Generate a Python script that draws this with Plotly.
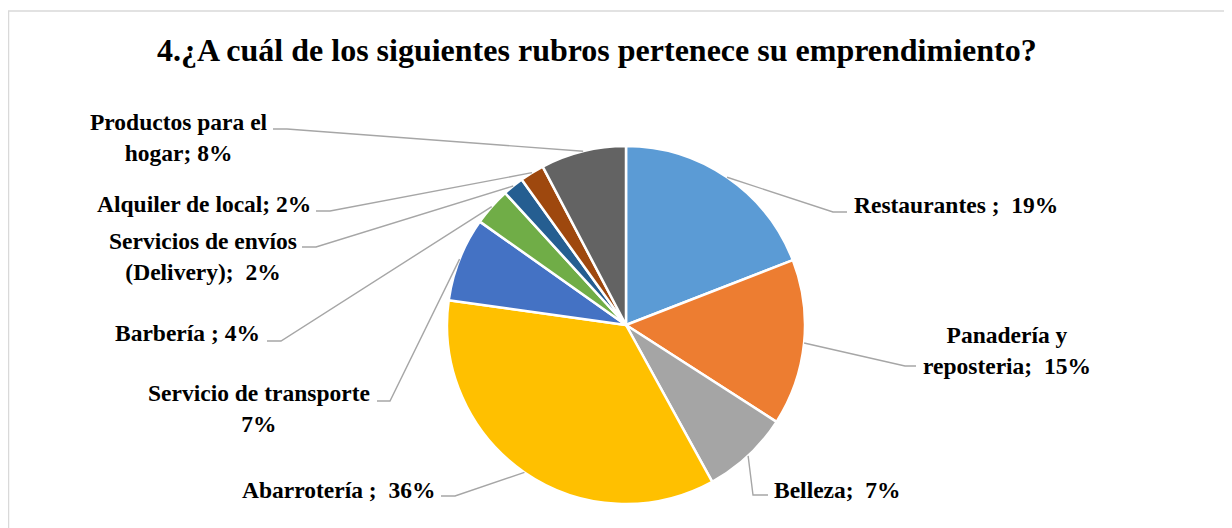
import math
import plotly.graph_objects as go

# ---------------- data ----------------
categories = [
    "Restaurantes", "Panadería y reposteria", "Belleza", "Abarrotería",
    "Servicio de transporte", "Barbería", "Servicios de envíos (Delivery)",
    "Alquiler de local", "Productos para el hogar",
]
values = [19.1, 15.0, 7.9, 35.2, 7.6, 3.4, 1.9, 2.2, 7.7]
label_text = [
    "Restaurantes ;\u00a0 19%",
    "Panadería y<br>reposteria;\u00a0 15%",
    "Belleza;\u00a0 7%",
    "Abarrotería ;\u00a0 36%",
    "Servicio de transporte<br>7%",
    "Barbería ; 4%",
    "Servicios de envíos<br>(Delivery);\u00a0 2%",
    "Alquiler de local; 2%",
    "Productos para el<br>hogar; 8%",
]
title_text = "4.¿A cuál de los siguientes rubros pertenece su emprendimiento?"

# ---------------- style / layout ----------------
colors = ["#5B9BD5", "#ED7D31", "#A5A5A5", "#FFC000", "#4472C4",
          "#70AD47", "#255E91", "#9E480E", "#636363"]
W, H = 1232, 528
OFF = 8  # page body margin
CX, CY, R = 626, 325, 179
FONT = "Liberation Serif, Times New Roman, serif"
LABEL_SIZE = 23.5
LINE_COLOR = "#A6A6A6"

# label placement: (text x, text y, xanchor, elbow x, elbow y, horizontal end x) in screen pixels
label_pos = [
    (852, 205, "left", 833, 212, 847),
    (1007, 350, "center", 905, 366, 916),
    (772, 490, "left", 753, 495, 768),
    (437, 490, "right", 455, 496, 441),
    (259, 408, "center", 390, 401, 377),
    (262, 333, "right", 281, 341, 267),
    (203, 256, "center", 316, 247, 302),
    (313, 204, "right", 330, 211, 316),
    (179, 137, "center", 287, 129, 273),
]


def px(x):
    return (x - OFF) / W


def py(y):
    return 1 - (y - OFF) / H


fig = go.Figure(go.Pie(
    labels=categories, values=values, sort=False, direction="clockwise",
    rotation=0, textinfo="none", hoverinfo="label+percent", showlegend=False,
    marker=dict(colors=colors, line=dict(color="white", width=2.5)),
    domain=dict(x=[px(CX - R), px(CX + R)], y=[py(CY + R), py(CY - R)]),
))

total = sum(values)
annotations = []
shapes = []
cum = 0.0
for val, txt, pos in zip(values, label_text, label_pos):
    mid = (cum + val / 2) / total * 2 * math.pi
    cum += val
    ax = CX + R * math.sin(mid)
    ay = CY - R * math.cos(mid)
    tx, ty, xa, ex, ey, hx = pos
    shapes.append(dict(
        type="path", xref="paper", yref="paper",
        path=f"M {px(ax)} {py(ay)} L {px(ex)} {py(ey)} L {px(hx)} {py(ey)}",
        line=dict(color=LINE_COLOR, width=1.4), layer="above",
    ))
    annotations.append(dict(
        text=f"<b>{txt}</b>", x=px(tx), y=py(ty), xref="paper", yref="paper",
        xanchor=xa, yanchor="middle", align=xa,
        showarrow=False, font=dict(family=FONT, size=LABEL_SIZE, color="black"),
    ))

annotations.append(dict(
    text=f"<b>{title_text}</b>", x=px(597), y=py(50), xref="paper", yref="paper",
    xanchor="center", yanchor="middle", showarrow=False,
    font=dict(family=FONT, size=32, color="black"),
))

# chart border
shapes.append(dict(type="rect", xref="paper", yref="paper",
                   x0=px(8.5), y0=py(11), x1=px(W + 20), y1=py(H + 20),
                   line=dict(color="#D9D9D9", width=1.5), layer="below"))

fig.update_layout(
    width=W, height=H, margin=dict(l=0, r=0, t=0, b=0),
    paper_bgcolor="white", plot_bgcolor="white",
    annotations=annotations, shapes=shapes,
)

fig.write_html("out.html")
